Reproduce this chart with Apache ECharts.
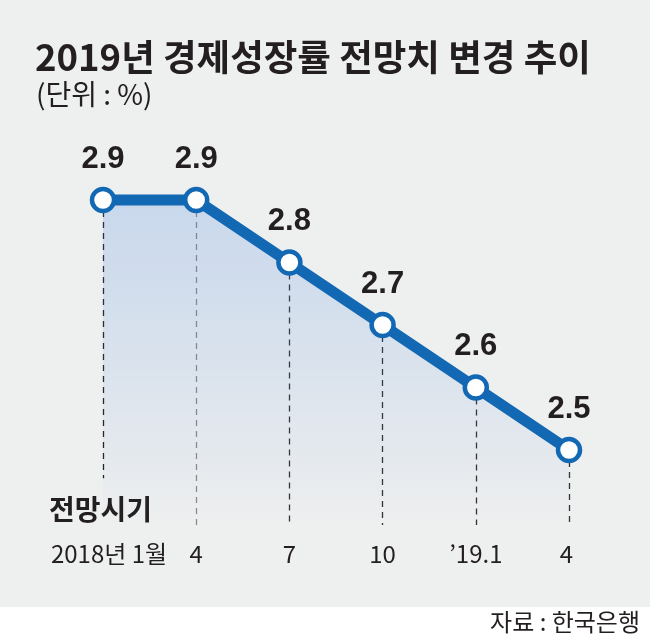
<!DOCTYPE html>
<html>
<head>
<meta charset="utf-8">
<script src="https://cdn.jsdelivr.net/npm/echarts@6/dist/echarts.min.js"></script>
<style>
  html, body { margin: 0; padding: 0; }
  body { width: 650px; height: 639px; background: linear-gradient(#eeefef 0, #eeefef 607px, #ffffff 607px); }
  #chart { width: 650px; height: 639px; }
</style>
</head>
<body>
<div id="chart"></div>
<script>
// Data
const categories = ['2018년 1월', '4', '7', '10', '\u201919.1', '4 '];
const values = [2.9, 2.9, 2.8, 2.7, 2.6, 2.5];
const dashEnd = [2.455, 2.38, 2.38, 2.38, 2.38, 2.38];
const dashColors = ['#222222', '#8a8a8a', '#333333', '#333333', '#333333', '#333333'];
const titleText = '2019년 경제성장률 전망치 변경 추이';
const unitText = '(단위 : %)';
const axisTitle = '전망시기';
const sourceText = '자료 : 한국은행';

const blue = '#1368b4';
const ink = '#231f20';
const cjk = '"Noto Sans CJK KR", "Noto Sans", sans-serif';

const chart = echarts.init(document.getElementById('chart'), null, { renderer: 'canvas' });

const markData = categories.map((c, i) => [
  { coord: [c, values[i]], lineStyle: { color: dashColors[i] } },
  { coord: [c, dashEnd[i]] }
]);

const axisData = categories.map((c, i) =>
  i === 0 ? { value: c, textStyle: { padding: [0, 0, 0, 12] } } : c
);

chart.setOption({
  backgroundColor: 'transparent',
  animation: false,
  grid: { left: 103, right: 81, top: 137.5, bottom: 114, containLabel: false },
  xAxis: {
    type: 'category',
    data: axisData,
    boundaryGap: false,
    axisLine: { show: false },
    axisTick: { show: false },
    splitLine: { show: false },
    axisLabel: {
      margin: 17,
      color: ink,
      fontSize: 24,
      fontFamily: 'Noto Sans CJK KR',
      interval: 0
    }
  },
  yAxis: {
    type: 'value',
    min: 2.38,
    max: 3.0,
    show: false
  },
  graphic: [
    {
      type: 'text', left: 35, top: 39,
      style: { text: titleText, fill: ink, font: 'bold 36.5px ' + cjk }
    },
    {
      type: 'text', left: 36, top: 80,
      style: { text: unitText, fill: ink, font: '28px ' + cjk }
    },
    {
      type: 'text', left: 49, top: 495,
      style: { text: axisTitle, fill: ink, font: 'bold 28px ' + cjk }
    },
    {
      type: 'text', right: 10, top: 610,
      style: { text: sourceText, fill: ink, font: '24px ' + cjk }
    }
  ],
  series: [{
    type: 'line',
    data: values,
    smooth: false,
    symbol: 'circle',
    symbolSize: 22,
    lineStyle: { color: blue, width: 11 },
    itemStyle: { color: '#ffffff', borderColor: blue, borderWidth: 4.5 },
    areaStyle: {
      color: new echarts.graphic.LinearGradient(0, 0, 0, 1, [
        { offset: 0, color: 'rgba(60,130,225,0.3)' },
        { offset: 0.6, color: 'rgba(60,130,225,0.13)' },
        { offset: 1, color: 'rgba(60,130,225,0)' }
      ])
    },
    label: {
      show: true,
      position: 'top',
      distance: 12,
      color: ink,
      fontSize: 31,
      fontWeight: 'bold',
      fontFamily: 'Liberation Sans',
      formatter: p => p.value.toFixed(1)
    },
    markLine: {
      silent: true,
      z: 1,
      symbol: 'none',
      label: { show: false },
      lineStyle: { type: [6, 5], width: 1.3, color: '#333' },
      data: markData
    }
  }]
});
</script>
</body>
</html>
